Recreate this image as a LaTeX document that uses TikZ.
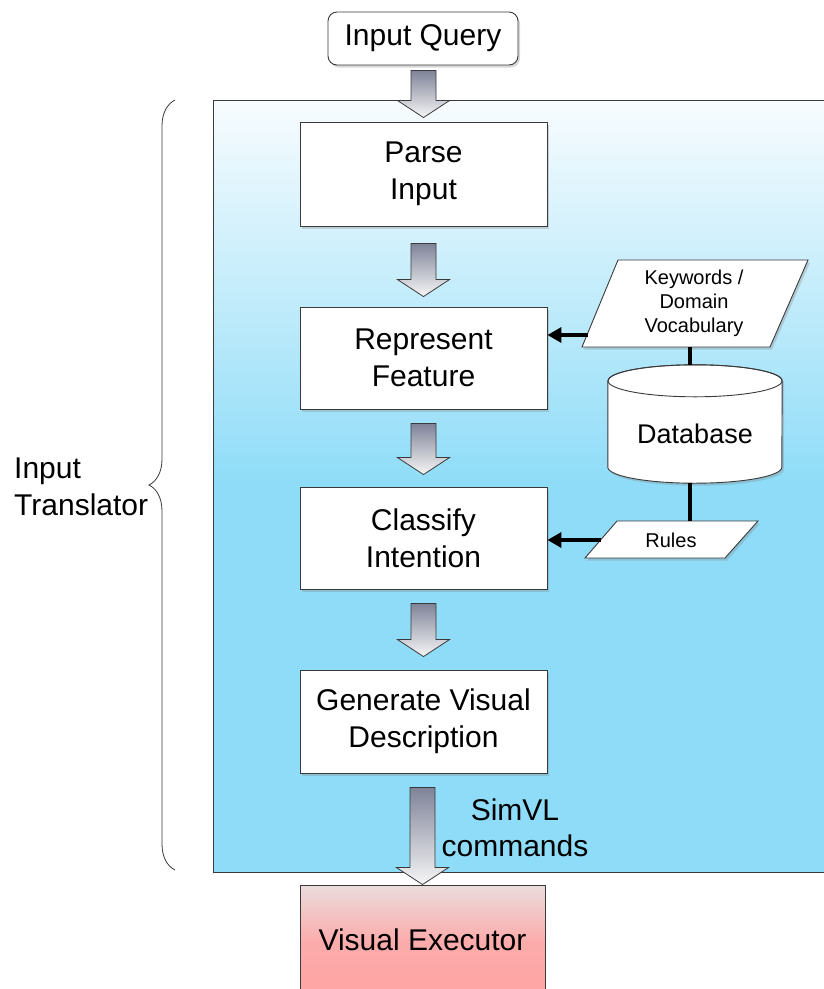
\documentclass[tikz,border=0pt]{standalone}
\usepackage{fontspec}
\setmainfont{Liberation Sans}
\usetikzlibrary{shadows,calc,decorations.pathreplacing,arrows.meta}

\definecolor{panelblue}{HTML}{8EDCF8}
\definecolor{panelpale}{HTML}{F8FCFE}
\definecolor{execpink}{HTML}{FFA3A3}
\definecolor{execpale}{HTML}{EADCDC}
\definecolor{arrowtop}{HTML}{7F8398}
\definecolor{arrowbot}{HTML}{F6F6F6}
\definecolor{edge}{HTML}{3A3A3A}

% vertical fade of the translator panel: solid blue below, pale at the top
% (the path is fitted to the 25bp..75bp band of the shading)
\pgfdeclareverticalshading{panelshade}{100bp}{color(0bp)=(panelblue); color(25bp)=(panelblue); color(50bp)=(panelblue); color(75bp)=(panelpale); color(100bp)=(panelpale)}

% hollow block arrow pointing down, from #1 (top of shaft) to #2 (tip)
\newcommand\fatarrow[2]{%
  \shade[fatarrow] let \p1=(#1), \p2=(#2) in
    (\x2-12.5pt,\y1) -- (\x2-12.5pt,\y2+17pt) -- (\x2-26pt,\y2+17pt) -- (\x2,\y2)
    -- (\x2+26pt,\y2+17pt) -- (\x2+12.5pt,\y2+17pt) -- (\x2+12.5pt,\y1) -- cycle;}

\begin{document}
\begin{tikzpicture}[x=1pt,y=-1pt,
  softshadow/.style={drop shadow={shadow xshift=2pt,shadow yshift=-2.5pt,opacity=.3}},
  stepbox/.style={draw=edge,line width=0.9pt,fill=white,minimum width=247pt,
    minimum height=103pt,align=center,inner sep=0pt,
    font=\fontsize{30}{37}\selectfont,softshadow},
  fatarrow/.style={draw=edge,line width=0.8pt,top color=arrowtop,bottom color=arrowbot},
  dbarrow/.style={line width=4pt,-{Triangle[length=14pt,width=15pt]}},
  dbline/.style={line width=4pt},
  dataform/.style={draw=edge,line width=0.9pt,fill=white,softshadow},
  smalltext/.style={align=center,inner sep=0pt,font=\fontsize{20}{24}\selectfont},
  bigtext/.style={align=center,inner sep=0pt,font=\fontsize{30}{36}\selectfont}]

\useasboundingbox (0,0) rectangle (824,989);
\clip (0,0) rectangle (824,989);
\fill[white] (0,0) rectangle (824,989);

% translator panel
\shade[shading=panelshade] (213,100) rectangle (830,872);
\draw[edge,line width=1pt] (213,100) rectangle (830,872);

% brace and its label
\draw[edge,line width=0.8pt,decorate,decoration={brace,amplitude=26pt,aspect=0.5}]
  (175,870) -- (175,100);
\node[anchor=west,align=left,inner sep=0pt,font=\fontsize{30}{37}\selectfont]
  (trlabel) at (14,487) {Input\\Translator};

% main flow
\node[draw=edge,line width=0.9pt,fill=white,rounded corners=9pt,minimum width=190pt,
  minimum height=53pt,inner sep=0pt,font=\fontsize{30}{36}\selectfont,softshadow]
  (iq) at (423,38.5) {Input Query};
\node[stepbox,minimum height=104pt] (parse) at (423.5,174) {Parse\\Input};
\node[stepbox,minimum height=102pt] (rep) at (423.5,358) {Represent\\Feature};
\node[stepbox,minimum height=102pt] (cls) at (423.5,538) {Classify\\Intention};
\node[stepbox,minimum height=103pt] (gen) at (423.5,721.5) {Generate Visual\\Description};
\node[draw=edge,line width=0.9pt,minimum width=245pt,minimum height=114pt,inner sep=0pt,
  top color=execpale,bottom color=execpink,middle color=execpink!85!execpale,
  font=\fontsize{30}{36}\selectfont,text depth=0pt]
  (exec) at (422.5,942) {\raisebox{5pt}{Visual Executor}};

\fatarrow{$(iq.south)+(0,5)$}{$(parse.north)+(0,-4)$}
\fatarrow{$(parse.south)+(0,17)$}{$(rep.north)+(0,-10)$}
\fatarrow{$(rep.south)+(0,14)$}{$(cls.north)+(0,-12)$}
\fatarrow{$(cls.south)+(0,14)$}{$(gen.north)+(0,-13)$}
\fatarrow{$(gen.south)+(0,14)$}{$(exec.north)+(0,0)$}

\node[bigtext] (simvl) at (515,828) {SimVL\\commands};

% knowledge sources
\draw[dataform] (618,260) -- (808,260) -- (770,347) -- (582,347) -- cycle;
\node[smalltext] (kw) at (694,303) {Keywords /\\Domain\\Vocabulary};
\coordinate (kwleft) at (588,335);
\coordinate (kwbot) at (690,347);

\node[minimum width=174pt,minimum height=118pt,inner sep=0pt] (db) at (695,424) {};
\draw[dataform] ($(db.north west)+(0,16)$) -- ($(db.south west)+(0,-16)$)
  arc[start angle=180,end angle=0,x radius=87,y radius=16]
  -- ($(db.north east)+(0,16)$)
  arc[start angle=0,end angle=-180,x radius=87,y radius=16] -- cycle;
\draw[edge,line width=0.9pt] ($(db.north)+(0,16)$) ellipse[x radius=87,y radius=16];
\node[bigtext,font=\fontsize{27}{32}\selectfont] (dbtext) at (695,434) {Database};

\draw[dataform] (617,521) -- (758,521) -- (725,558) -- (585,558) -- cycle;
\node[smalltext] (rules) at (671,540) {Rules};
\coordinate (rulesleft) at (601,540);
\coordinate (rulestop) at (690,521);

% connectors
\draw[dbline] (kwbot) -- (kwbot |- db.north);
\draw[dbline] (kwbot |- db.south) -- (rulestop);
\draw[dbarrow] (kwleft) -- (rep.east |- kwleft);
\draw[dbarrow] (rulesleft) -- (cls.east |- rulesleft);

\end{tikzpicture}
\end{document}
